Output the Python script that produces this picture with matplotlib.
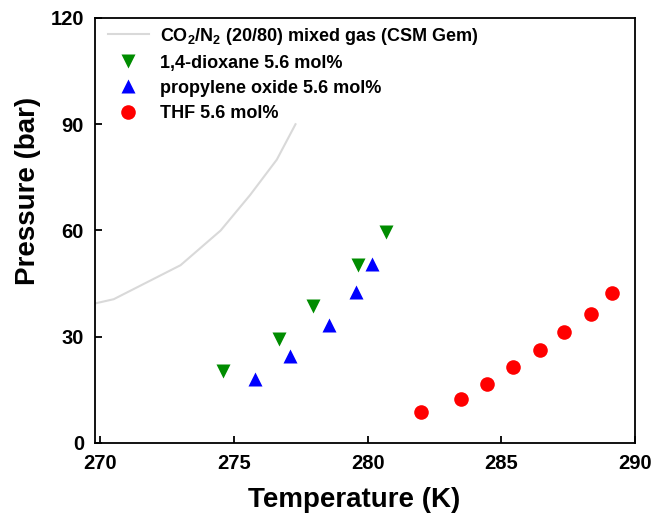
import numpy as np
import matplotlib
matplotlib.use("Agg")
import matplotlib.pyplot as plt

plt.rcParams['font.family'] = ['Liberation Sans', 'DejaVu Sans']
plt.rcParams['font.weight'] = 'bold'
plt.rcParams['mathtext.fontset'] = 'custom'
plt.rcParams['mathtext.rm'] = 'Liberation Sans:bold'
plt.rcParams['mathtext.bf'] = 'Liberation Sans:bold'
plt.rcParams['mathtext.default'] = 'bf'

# CO2/N2 (20/80) equilibrium curve from CSM Gem
gem_T = [269.8, 270.5, 273.0, 274.5, 275.6, 276.6, 277.3]
gem_P = [39.4, 40.6, 50.2, 60.0, 70.0, 80.0, 90.0]

# 1,4-dioxane 5.6 mol%
diox_T = [274.6, 276.7, 277.95, 279.65, 280.7]
diox_P = [20.3, 29.4, 38.7, 50.3, 59.7]

# propylene oxide 5.6 mol%
po_T = [275.8, 277.1, 278.55, 279.55, 280.15]
po_P = [18.2, 24.6, 33.4, 42.5, 50.4]

# THF 5.6 mol%
thf_T = [282.0, 283.5, 284.45, 285.45, 286.45, 287.35, 288.35, 289.15]
thf_P = [8.8, 12.5, 16.7, 21.5, 26.2, 31.4, 36.5, 42.4]

fig = plt.figure(figsize=(6.64, 5.2), dpi=100)
ax = fig.add_axes([0.1431, 0.1481, 0.8132, 0.8173])

ax.plot(gem_T, gem_P, color='#d9d9d9', lw=1.5,
        label=r'CO$_2$/N$_2$ (20/80) mixed gas (CSM Gem)')
ax.plot(diox_T, diox_P, 'v', color='#008c00', ms=10.5, mec='none',
        label='1,4-dioxane 5.6 mol%')
ax.plot(po_T, po_P, '^', color='#0000ff', ms=10.5, mec='none',
        label='propylene oxide 5.6 mol%')
ax.plot(thf_T, thf_P, 'o', color='#ff0000', ms=10.5, mec='none',
        label='THF 5.6 mol%')

ax.set_xlim(269.8, 290)
ax.set_ylim(0, 120)
ax.set_xticks([270, 275, 280, 285, 290])
ax.set_yticks([0, 30, 60, 90, 120])
ax.tick_params(direction='in', length=5, width=1.3, labelsize=14.5, pad=8)
for s in ax.spines.values():
    s.set_linewidth(1.3)

ax.set_xlabel('Temperature (K)', fontsize=20, fontweight='bold')
ax.set_ylabel('Pressure (bar)', fontsize=20, fontweight='bold')
ax.xaxis.set_label_coords(0.48, -0.135)
ax.yaxis.set_label_coords(-0.124, 0.593)
ax.xaxis.label.set_va('center')
ax.yaxis.label.set_va('center')

ax.legend(loc='upper left', bbox_to_anchor=(0.0, 1.012), frameon=False,
          fontsize=13, handlelength=2.3, handletextpad=0.6,
          labelspacing=0.45, borderaxespad=0.3, numpoints=1)

fig.savefig('out.png', dpi=100)
